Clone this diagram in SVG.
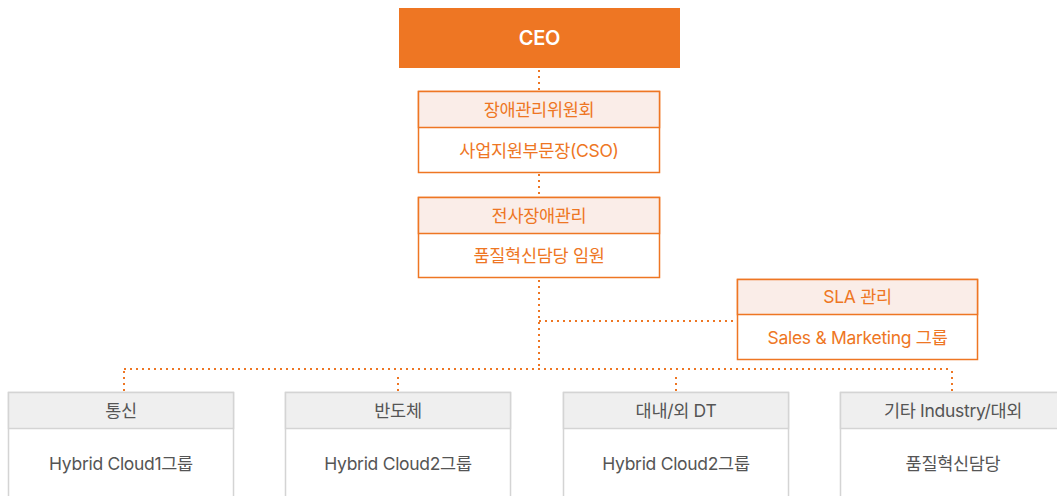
<svg xmlns="http://www.w3.org/2000/svg" width="1057" height="496" viewBox="0 0 1057 496">
<style>
text{font-family:Inter,"Noto Sans CJK KR","Noto Sans",sans-serif;text-anchor:middle;dominant-baseline:central;letter-spacing:-0.3px}
.o{fill:#EE7623;font-size:17.5px}
.g{fill:#555555;font-size:17.5px}
.ceo{fill:#ffffff;font-size:20px;font-weight:600}
.ob{fill:#ffffff;stroke:#EE7623;stroke-width:1.5}
.oh{fill:#FAEDE8;stroke:#EE7623;stroke-width:1.5}
.gb{fill:#ffffff;stroke:#D4D4D4;stroke-width:1.5}
.gh{fill:#EFEFEF;stroke:#D4D4D4;stroke-width:1.5}
.dot{fill:none;stroke:#EE7623;stroke-width:2;stroke-dasharray:2 4}
</style>
<g id="connectors">
<line class="dot" x1="539" y1="70" x2="539" y2="91"/>
<line class="dot" x1="539" y1="174" x2="539" y2="197"/>
<line class="dot" x1="539" y1="280" x2="539" y2="369"/>
<line class="dot" x1="539" y1="321" x2="737" y2="321"/>
<line class="dot" x1="124" y1="369" x2="952" y2="369"/>
<line class="dot" x1="124" y1="371" x2="124" y2="392"/>
<line class="dot" x1="398" y1="377" x2="398" y2="392"/>
<line class="dot" x1="676" y1="377" x2="676" y2="392"/>
<line class="dot" x1="952" y1="371" x2="952" y2="392"/>
</g>
<g id="ceo">
<rect x="399" y="8" width="281" height="60" fill="#EE7623"/>
<text class="ceo" x="539.5" y="38">CEO</text>
</g>
<g id="committee">
<rect class="ob" x="418.5" y="91.5" width="241" height="81"/>
<rect class="oh" x="418.5" y="91.5" width="241" height="36"/>
<text class="o" x="539" y="109">장애관리위원회</text>
<text class="o" x="539" y="150">사업지원부문장(CSO)</text>
</g>
<g id="company">
<rect class="ob" x="418.5" y="197.5" width="241" height="80"/>
<rect class="oh" x="418.5" y="197.5" width="241" height="36"/>
<text class="o" x="539" y="215">전사장애관리</text>
<text class="o" x="539" y="255">품질혁신담당 임원</text>
</g>
<g id="sla">
<rect class="ob" x="737.5" y="279.5" width="240" height="80"/>
<rect class="oh" x="737.5" y="279.5" width="240" height="35"/>
<text class="o" x="857.5" y="296">SLA 관리</text>
<text class="o" x="857.5" y="337">Sales &amp; Marketing 그룹</text>
</g>
<g id="telecom">
<rect class="gb" x="8.5" y="392.5" width="225" height="110"/>
<rect class="gh" x="8.5" y="392.5" width="225" height="36"/>
<text class="g" x="121" y="410">통신</text>
<text class="g" x="121" y="463">Hybrid Cloud1그룹</text>
</g>
<g id="semi">
<rect class="gb" x="285.5" y="392.5" width="225" height="110"/>
<rect class="gh" x="285.5" y="392.5" width="225" height="36"/>
<text class="g" x="398" y="410">반도체</text>
<text class="g" x="398" y="463">Hybrid Cloud2그룹</text>
</g>
<g id="dt">
<rect class="gb" x="563.5" y="392.5" width="225" height="110"/>
<rect class="gh" x="563.5" y="392.5" width="225" height="36"/>
<text class="g" x="676" y="410">대내/외 DT</text>
<text class="g" x="676" y="463">Hybrid Cloud2그룹</text>
</g>
<g id="etc">
<rect class="gb" x="840.5" y="392.5" width="225" height="110"/>
<rect class="gh" x="840.5" y="392.5" width="225" height="36"/>
<text class="g" x="953" y="410">기타 Industry/대외</text>
<text class="g" x="953" y="463">품질혁신담당</text>
</g>
</svg>
